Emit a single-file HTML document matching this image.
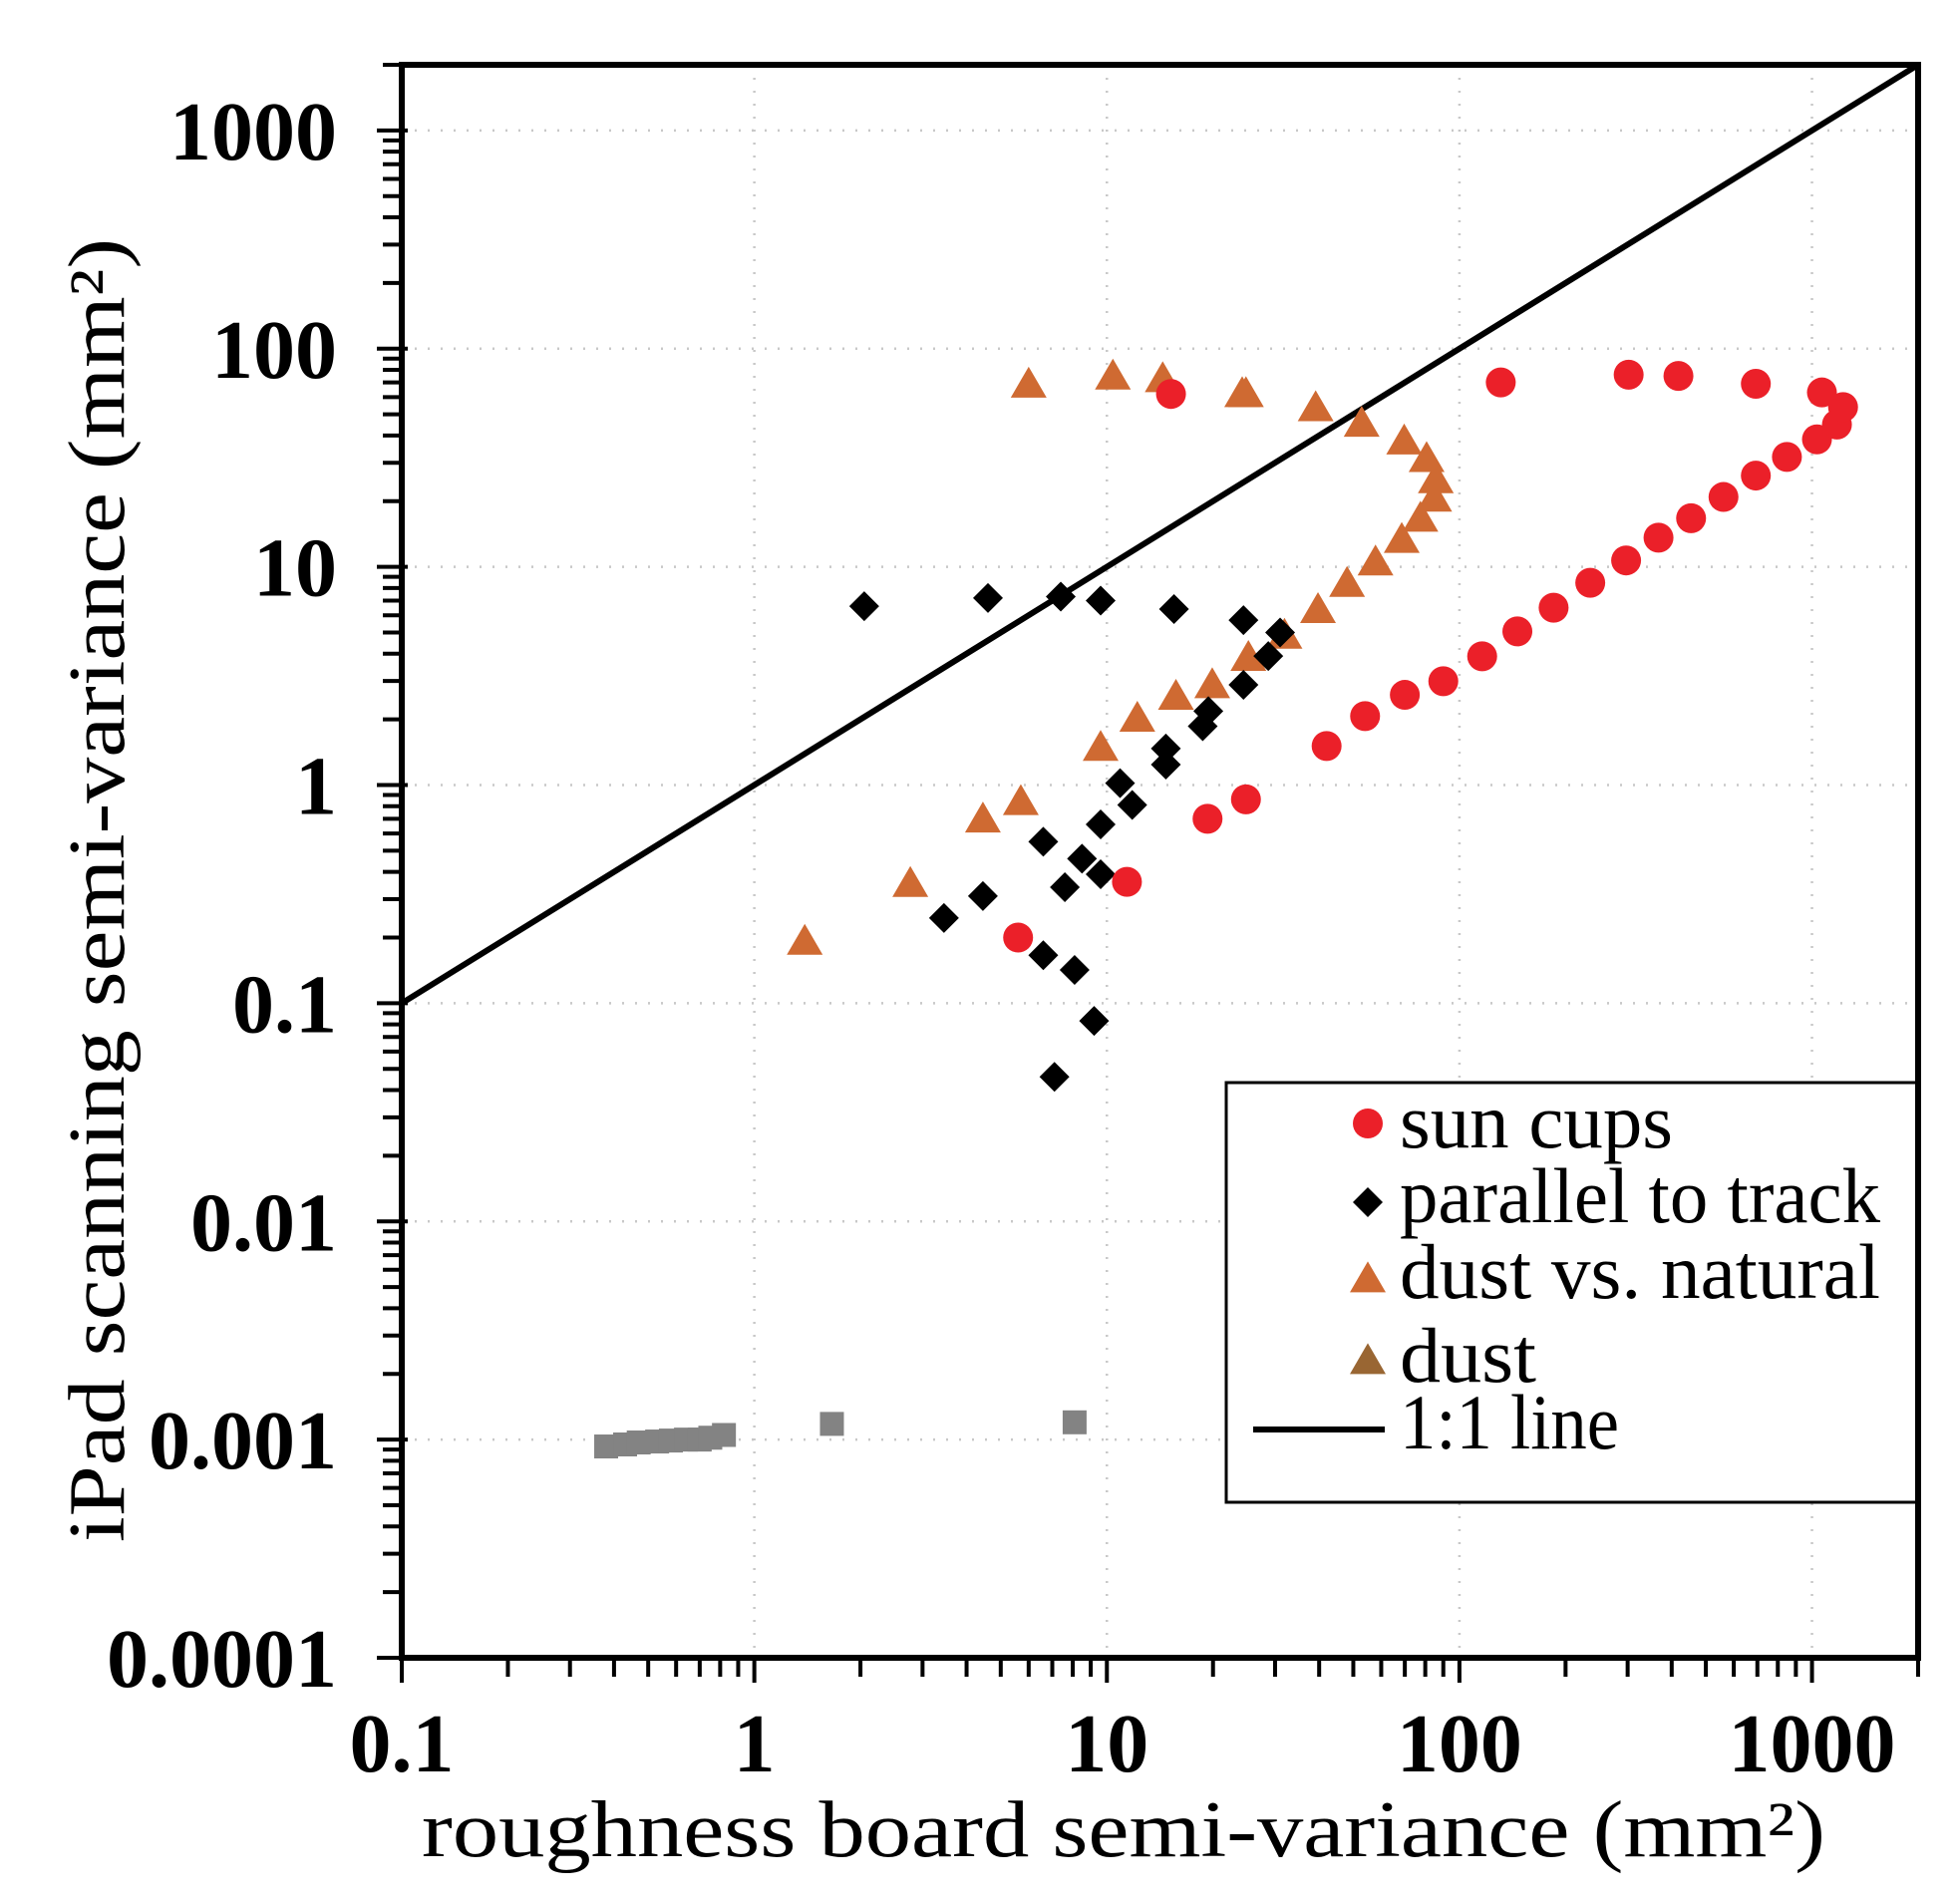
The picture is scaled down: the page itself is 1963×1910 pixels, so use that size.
<!DOCTYPE html>
<html><head><meta charset="utf-8">
<style>
html,body{margin:0;padding:0;background:#fff;}
svg{display:block;}
</style></head>
<body>
<svg id="chart" width="1963" height="1910" viewBox="0 0 1963 1910" xmlns="http://www.w3.org/2000/svg"></svg>
<script>
const sunX=[5.6,11.4,19.3,24.8,42,54,70,90,116,146,185,235,297,367,454,561,693,849,1033,1177,1225,1067,693,418,302,131,15.2];
const sunY=[0.20,0.36,0.70,0.86,1.51,2.07,2.59,2.99,3.89,5.06,6.5,8.45,10.7,13.6,16.7,20.9,26.2,31.9,38.4,44.9,54,63,69,75,76,70,62];
const parX=[2.05,4.6,7.4,9.6,15.5,24.4,31,28.7,24.4,19.4,18.7,14.7,14.7,10.9,11.8,9.6,6.6,8.5,7.6,9.6,4.45,3.45,6.6,8.1,9.2,7.1];
const parY=[6.6,7.2,7.3,7.0,6.4,5.7,5.0,3.9,2.88,2.18,1.86,1.47,1.24,1.02,0.81,0.66,0.55,0.46,0.34,0.39,0.31,0.246,0.166,0.142,0.083,0.046];
const dvnX=[1.39,2.77,4.45,5.7,9.6,12.2,15.7,19.9,25.2,31.9,39.7,48,57.8,68.6,77.5,84.8,85.7,80.7,69.7,52.8,39.1,24.8,24.2,14.4,10.4,6.0];
const dvnY=[0.19,0.35,0.69,0.83,1.47,2.0,2.52,2.85,3.8,4.8,6.3,8.3,10.4,13.2,16.5,20.4,24.8,31,37.3,45,53,61.5,61.5,72,74,68];
const dustX=[];
const dustY=[];
const refX=[0.38,0.43,0.47,0.53,0.58,0.64,0.70,0.75,0.82,1.66,8.1];
const refY=[0.00093,0.00095,0.00097,0.00098,0.00099,0.001,0.001,0.00102,0.00105,0.00118,0.0012];
const xTicks=[0.1,1,10,100,1000];
const xTickLabels=["0.1","1","10","100","1000"];
const yTicks=[0.0001,0.001,0.01,0.1,1,10,100,1000];
const yTickLabels=["0.0001","0.001","0.01","0.1","1","10","100","1000"];
const oneToOne=[0.1,2000];

const L=403,R=1924,T=65,B=1663;
const xMin=0.1,xMax=2000,yMin=0.0001,yMax=2000;
function sx(v){return L+(Math.log10(v)-Math.log10(xMin))/(Math.log10(xMax)-Math.log10(xMin))*(R-L);}
function sy(v){return B-(Math.log10(v)-Math.log10(yMin))/(Math.log10(yMax)-Math.log10(yMin))*(B-T);}
const NS="http://www.w3.org/2000/svg";
const svg=document.getElementById('chart');
function mk(tag,attrs,parent){const e=document.createElementNS(NS,tag);for(const k in attrs)e.setAttribute(k,attrs[k]);(parent||svg).appendChild(e);return e;}

const grid=mk('g',{});


xTicks.forEach(v=>{const l=mk('line',{x1:sx(v),x2:sx(v),y1:T,y2:B,stroke:'#c8c8c8','stroke-width':2.5,'stroke-dasharray':'2 11'},grid);

});
yTicks.forEach(v=>{const l=mk('line',{x1:L,x2:R,y1:sy(v),y2:sy(v),stroke:'#c8c8c8','stroke-width':2.5,'stroke-dasharray':'2 11'},grid);

});

const ticks=mk('g',{stroke:'#000','stroke-width':4});


for(let d=-1;d<4;d++){for(let m=1;m<10;m++){const v=m*Math.pow(10,d);if(v>xMax)break;const x=sx(v);
mk('line',{x1:x,x2:x,y1:B,y2:B+(m===1?25:19)},ticks);}}
mk('line',{x1:sx(xMax),x2:sx(xMax),y1:B,y2:B+19},ticks);
for(let d=-4;d<4;d++){for(let m=1;m<10;m++){const v=m*Math.pow(10,d);if(v>yMax)break;const y=sy(v);
mk('line',{x1:L-(m===1?25:19),x2:L+(m===1?6:0),y1:y,y2:y},ticks);}}

xTicks.forEach((v,i)=>{const t=mk('text',{x:sx(v),y:1777,'text-anchor':'middle','font-family':'"Liberation Serif",serif','font-weight':'bold','font-size':84});
t.textContent=xTickLabels[i];

});
yTicks.forEach((v,i)=>{const t=mk('text',{x:338,y:sy(v)+29,'text-anchor':'end','font-family':'"Liberation Serif",serif','font-weight':'bold','font-size':84});
t.textContent=yTickLabels[i];

});

const xt=mk('text',{x:1127,y:1862,'text-anchor':'middle','font-family':'"Liberation Serif",serif','font-size':80,textLength:1408,lengthAdjust:'spacingAndGlyphs'});
xt.textContent='roughness board semi-variance (mm²)';


const yt=mk('text',{x:0,y:0,transform:'translate(124,893) rotate(-90)','text-anchor':'middle','font-family':'"Liberation Serif",serif','font-size':80,textLength:1308,lengthAdjust:'spacingAndGlyphs'});
yt.textContent='iPad scanning semi-variance (mm²)';



const ln=mk('line',{x1:sx(oneToOne[0]),y1:sy(oneToOne[0]),x2:sx(oneToOne[1]),y2:sy(oneToOne[1]),stroke:'#000','stroke-width':6});



function circle(x,y,c,g){return mk('circle',{cx:x,cy:y,r:15,fill:c},g);}
function diamond(x,y,c,g){const s=15;return mk('polygon',{points:`${x},${y-s} ${x+s},${y} ${x},${y+s} ${x-s},${y}`,fill:c},g);}
function tri(x,y,c,g){const h=31,w=18;return mk('polygon',{points:`${x},${y-h*0.6} ${x+w},${y+h*0.4} ${x-w},${y+h*0.4}`,fill:c},g);}
function sq(x,y,c,g){return mk('rect',{x:x-12,y:y-12,width:24,height:24,fill:c},g);}

const gRef=mk('g',{});


refX.forEach((v,i)=>{const e=sq(sx(v),sy(refY[i]),'#838383',gRef);

});

const gDvn=mk('g',{});


dvnX.forEach((v,i)=>{const e=tri(sx(v),sy(dvnY[i]),'#cf6a32',gDvn);

});

const gDust=mk('g',{});


dustX.forEach((v,i)=>{const e=tri(sx(v),sy(dustY[i]),'#996633',gDust);

});

const gPar=mk('g',{});


parX.forEach((v,i)=>{const e=diamond(sx(v),sy(parY[i]),'#000',gPar);

});

const gSun=mk('g',{});


sunX.forEach((v,i)=>{const e=circle(sx(v),sy(sunY[i]),'#eb2029',gSun);

});

const fr=mk('rect',{x:L,y:T,width:R-L,height:B-T,fill:'none',stroke:'#000','stroke-width':6});



const lg=mk('g',{transform:'translate(-7,-6)'});


mk('rect',{x:1237,y:1092,width:R-1237+7,height:421,fill:'#fff',stroke:'#000','stroke-width':3},lg);
mk('line',{x1:R+7,y1:T+6,x2:R+7,y2:B+6,stroke:'#000','stroke-width':6},lg);
const items=[['sun cups',1157,'c',274],['parallel to track',1232,'d',482],['dust vs. natural',1308,'t1',482],['dust',1392,'t2',137],['1:1 line',1459,'l',220]];
items.forEach(it=>{
  const g=mk('g',{},lg);
  
  
  const mx=1379;
  if(it[2]==='c')circle(mx,1133,'#eb2029',g);
  if(it[2]==='d')diamond(mx,1212,'#000',g);
  if(it[2]==='t1')tri(mx,1290,'#cf6a32',g);
  if(it[2]==='t2')tri(mx,1372,'#996633',g);
  if(it[2]==='l')mk('line',{x1:1264,x2:1396,y1:1440,y2:1440,stroke:'#000','stroke-width':6},g);
  const t=mk('text',{x:1411,y:it[1],'font-family':'"Liberation Serif",serif','font-size':78,textLength:it[3],lengthAdjust:'spacingAndGlyphs'},g);
  t.textContent=it[0];
});
</script>
</body></html>
